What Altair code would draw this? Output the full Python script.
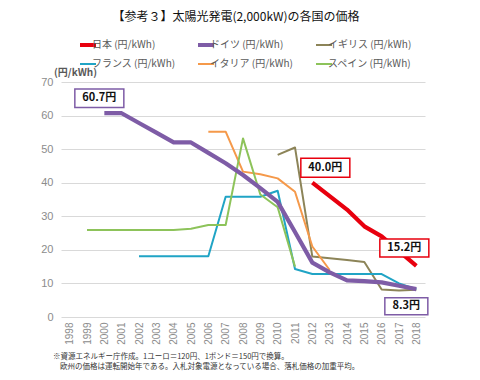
import altair as alt
import pandas as pd

# ---------------- data ----------------
years = [str(y) for y in range(1998, 2019)]
series = ["日本 (円/kWh)", "ドイツ (円/kWh)", "イギリス (円/kWh)",
          "フランス (円/kWh)", "イタリア (円/kWh)", "スペイン (円/kWh)"]
N = None
japan = [N] * 14 + [40.0, 36.0, 32.0, 27.0, 24.0, 19.6, 15.2]
germany = [N, N, 60.7, 60.7, 57.8, 54.9, 52.0, 52.0, 48.9, 45.8, 42.3, 38.4,
           34.3, 25.3, 16.2, 13.3, 10.9, 10.7, 10.3, 9.3, 8.3]
uk = [N] * 12 + [48.3, 50.5, 18.0, 17.5, 17.0, 16.4, 8.2, 7.9, 8.1]
france = [N] * 4 + [18.1] * 5 + [35.8, 35.8, 35.8, 37.6, 14.3, 12.8, 12.8,
                                 12.8, 12.8, 12.8, 10.0, 8.3]
italy = [N] * 8 + [55.2, 55.2, 43.3, 42.5, 41.3, 37.3, 21.0, 14.0] + [N] * 5
spain = [N] + [25.9] * 6 + [26.3, 27.4, 27.4, 53.2, 36.5, 32.7, 15.0] + [N] * 7

label_series = ["ドイツ (円/kWh)", "日本 (円/kWh)", "日本 (円/kWh)", "ドイツ (円/kWh)"]
label_years = ["2000", "2012", "2018", "2018"]
label_values = [60.7, 40.0, 15.2, 8.3]

title_text = "【参考３】太陽光発電(2,000kW)の各国の価格"
note1 = "※資源エネルギー庁作成。1ユーロ＝120円、1ポンド＝150円で換算。"
note2 = "欧州の価格は運転開始年である。入札対象電源となっている場合、落札価格の加重平均。"

# ---------------- styles ----------------
colors = ["#e8000e", "#7e5ca6", "#8c8458", "#20a4c5", "#f5994a", "#8dc35a"]
thick = ["日本 (円/kWh)", "ドイツ (円/kWh)"]
FONT = "Noto Sans CJK JP"

# draw order: thin lines first, then Germany, then Japan
draw_order = [uk, france, italy, spain, germany, japan]
draw_names = [series[2], series[3], series[4], series[5], series[1], series[0]]
rows = []
for name, vals in zip(draw_names, draw_order):
    for y, v in zip(years, vals):
        if v is not None:
            rows.append({"series": name, "year": y, "value": v})
df = pd.DataFrame(rows)

lab_df = pd.DataFrame({
    "series": label_series,
    "year": label_years,
    "value": label_values,
    "text": [f"{v:.1f}円" for v in label_values],
})

x_enc = alt.X("year:O", scale=alt.Scale(domain=years), title=None,
              axis=alt.Axis(labelAngle=-90, labelColor="#8c8c8c", labelFontSize=10,
                            labelFont="Liberation Sans", ticks=False, domain=False,
                            grid=False, labelPadding=5, labelOverlap=False))
y_enc = alt.Y("value:Q", scale=alt.Scale(domain=[0, 70], nice=False), title=None,
              axis=alt.Axis(values=list(range(0, 71, 10)), grid=True, gridColor="#d9d9d9",
                            domain=False, ticks=False, labelPadding=8, labelFontSize=11,
                            labelColor="#8c8c8c", labelFont="Liberation Sans",
                            labelOverlap=False))

width_expr = "indexof(['日本 (円/kWh)','ドイツ (円/kWh)'], datum.value) >= 0 ? 4 : 2"

lines = alt.Chart(df).mark_line(strokeJoin="round").encode(
    x=x_enc,
    y=y_enc,
    color=alt.Color("series:N", scale=alt.Scale(domain=series, range=colors),
                    legend=alt.Legend(
                        title=None, orient="none", legendX=19, legendY=-45,
                        columns=3, direction="horizontal",
                        symbolType="stroke", symbolSize=484,
                        labelFontSize=10, labelColor="#595959", labelFont=FONT,
                        clipHeight=16, rowPadding=3, columnPadding=22,
                        gridAlign="all", labelOffset=2, padding=0,
                        symbolStrokeWidth=alt.ExprRef(expr=width_expr),
                    )),
    strokeWidth=alt.condition(alt.FieldOneOfPredicate(field="series", oneOf=thick),
                              alt.value(4.2), alt.value(2)),
    detail="series:N",
)

layers = [lines]

box_specs = [
    # (offset x, offset y, box width, box height, border colour)
    (-5, -15, 49, 18.5, "#7e5ca6"),
    (13, -15, 49, 19, "#e8000e"),
    (-12, -18, 49, 18, "#e8000e"),
    (-10, 17, 43, 17, "#7e5ca6"),
]
for i, (ox, oy, bw, bh, col) in enumerate(box_specs):
    sub = lab_df.iloc[[i]]
    hh = (bh / 2) / (bw / 2)
    path = f"M-1,-{hh:.4f}L1,-{hh:.4f}L1,{hh:.4f}L-1,{hh:.4f}Z"
    box = alt.Chart(sub).mark_point(
        shape=path, size=bw * bw, filled=True, fill="white", stroke=col,
        strokeWidth=1.5, opacity=1, xOffset=ox, yOffset=oy,
    ).encode(x=x_enc, y=y_enc)
    txt = alt.Chart(sub).mark_text(
        dx=ox, dy=oy, fontWeight="bold", fontSize=11, font=FONT, color="#111111",
        align="center", baseline="middle",
    ).encode(x=x_enc, y=y_enc, text="text:N")
    layers += [box, txt]


def note(text, x, y, size, align="left", weight="normal", color="#333333"):
    return alt.Chart(pd.DataFrame({"t": [text]})).mark_text(
        align=align, baseline="middle", fontSize=size, font=FONT,
        fontWeight=weight, color=color,
    ).encode(x=alt.value(x), y=alt.value(y), text="t:N")


layers += [
    note(title_text, 175, -65.5, 12, align="center", color="#111111"),
    note("(円/kWh)", -7, -9, 10, weight="bold", color="#595959"),
    note(note1, -8, 275, 7.5),
    note(note2, -1, 285, 7.5),
]

chart = alt.layer(*layers).properties(
    width=364, height=235,
    autosize=alt.AutoSizeParams(type="none"),
    padding={"left": 53, "top": 74, "right": 47, "bottom": 55},
).configure_view(strokeWidth=0)

chart.save("out.html", embed_options={"renderer": "svg", "actions": False})
